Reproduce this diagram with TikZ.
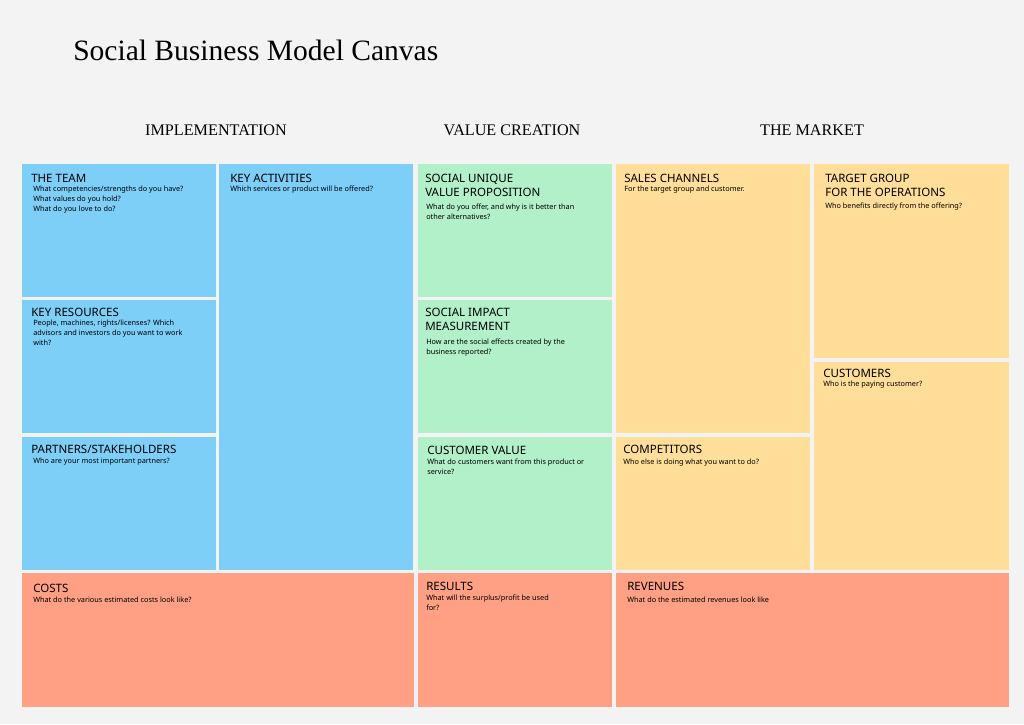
\documentclass[tikz,border=0pt]{standalone}
\usepackage{fontspec}
\setmainfont{Liberation Serif}
\newfontfamily\boxfont{Noto Sans}
\definecolor{bgcol}{HTML}{F2F3F2}
\definecolor{implcol}{HTML}{7DCFF8}
\definecolor{valcol}{HTML}{B1F0C8}
\definecolor{mktcol}{HTML}{FFDE9A}
\definecolor{fincol}{HTML}{FFA084}
\tikzset{
  head/.style={anchor=north west,inner sep=0pt,font=\boxfont\fontsize{8.2}{10}\selectfont\bfseries,align=left},
  body/.style={anchor=north west,inner sep=0pt,font=\boxfont\fontsize{5.2}{7}\selectfont,align=left},
  part/.style={inner sep=0pt,font=\fontsize{11.5}{13}\selectfont}
}
\begin{document}
\begin{tikzpicture}[x=0.025cm,y=-0.025cm]
    \fill[bgcol] (0,0) rectangle (1024,724);
    \useasboundingbox (0,0) rectangle (1024,724);

    \node[anchor=west,inner sep=0pt,font=\fontsize{21}{24}\selectfont] (title) at (73,50) {Social Business Model Canvas};
    \node[part] (impl) at (216,130) {IMPLEMENTATION};
    \node[part] (valc) at (512,130) {VALUE CREATION};
    \node[part] (mkt) at (812,130) {THE MARKET};

    % implementation
    \fill[implcol] (22,164) rectangle (216,297);
    \fill[implcol] (22,300) rectangle (216,433);
    \fill[implcol] (22,437) rectangle (216,570);
    \fill[implcol] (219,164) rectangle (413,570);
    % value creation
    \fill[valcol] (418,164) rectangle (612,297);
    \fill[valcol] (418,300) rectangle (612,433);
    \fill[valcol] (418,437) rectangle (612,570);
    % market
    \fill[mktcol] (616,164) rectangle (810,433);
    \fill[mktcol] (616,437) rectangle (810,570);
    \fill[mktcol] (814,164) rectangle (1009,358);
    \fill[mktcol] (814,362) rectangle (1009,570);
    % finance
    \fill[fincol] (22,573) rectangle (414,707);
    \fill[fincol] (418,573) rectangle (612,707);
    \fill[fincol] (616,573) rectangle (1009,707);

    \node[head] (team) at (31,174) {THE TEAM};
    \node[body] at (33,186) {What competencies/strengths do you have?\\What values do you hold?\\What do you love to do?};
    \node[head] (res) at (31,308) {KEY RESOURCES};
    \node[body] at (33,320) {People, machines, rights/licenses? Which\\advisors and investors do you want to work\\with?};
    \node[head] (partn) at (31,445) {PARTNERS/STAKEHOLDERS};
    \node[body] at (33,458) {Who are your most important partners?};
    \node[head] (act) at (230,174) {KEY ACTIVITIES};
    \node[body] at (230,186) {Which services or product will be offered?};

    \node[head] (uvp) at (425,174) {SOCIAL UNIQUE\\VALUE PROPOSITION};
    \node[body] at (426,204) {What do you offer, and why is it better than\\other alternatives?};
    \node[head] (impact) at (425,308) {SOCIAL IMPACT\\MEASUREMENT};
    \node[body] at (426,339) {How are the social effects created by the\\business reported?};
    \node[head] (cval) at (427,446) {CUSTOMER VALUE};
    \node[body] at (427,459) {What do customers want from this product or\\service?};

    \node[head] (sales) at (624,174) {SALES CHANNELS};
    \node[body] at (624,186) {For the target group and customer.};
    \node[head] (comp) at (623,445) {COMPETITORS};
    \node[body] at (623,459) {Who else is doing what you want to do?};
    \node[head] (target) at (825,174) {TARGET GROUP\\FOR THE OPERATIONS};
    \node[body] at (825,203) {Who benefits directly from the offering?};
    \node[head] (cust) at (823,369) {CUSTOMERS};
    \node[body] at (823,381) {Who is the paying customer?};

    \node[head] (costs) at (33,584) {COSTS};
    \node[body] at (33,597) {What do the various estimated costs look like?};
    \node[head] (resul) at (426,582) {RESULTS};
    \node[body] at (426,595) {What will the surplus/profit be used\\for?};
    \node[head] (rev) at (627,582) {REVENUES};
    \node[body] at (627,597) {What do the estimated revenues look like};
\end{tikzpicture}
\end{document}
